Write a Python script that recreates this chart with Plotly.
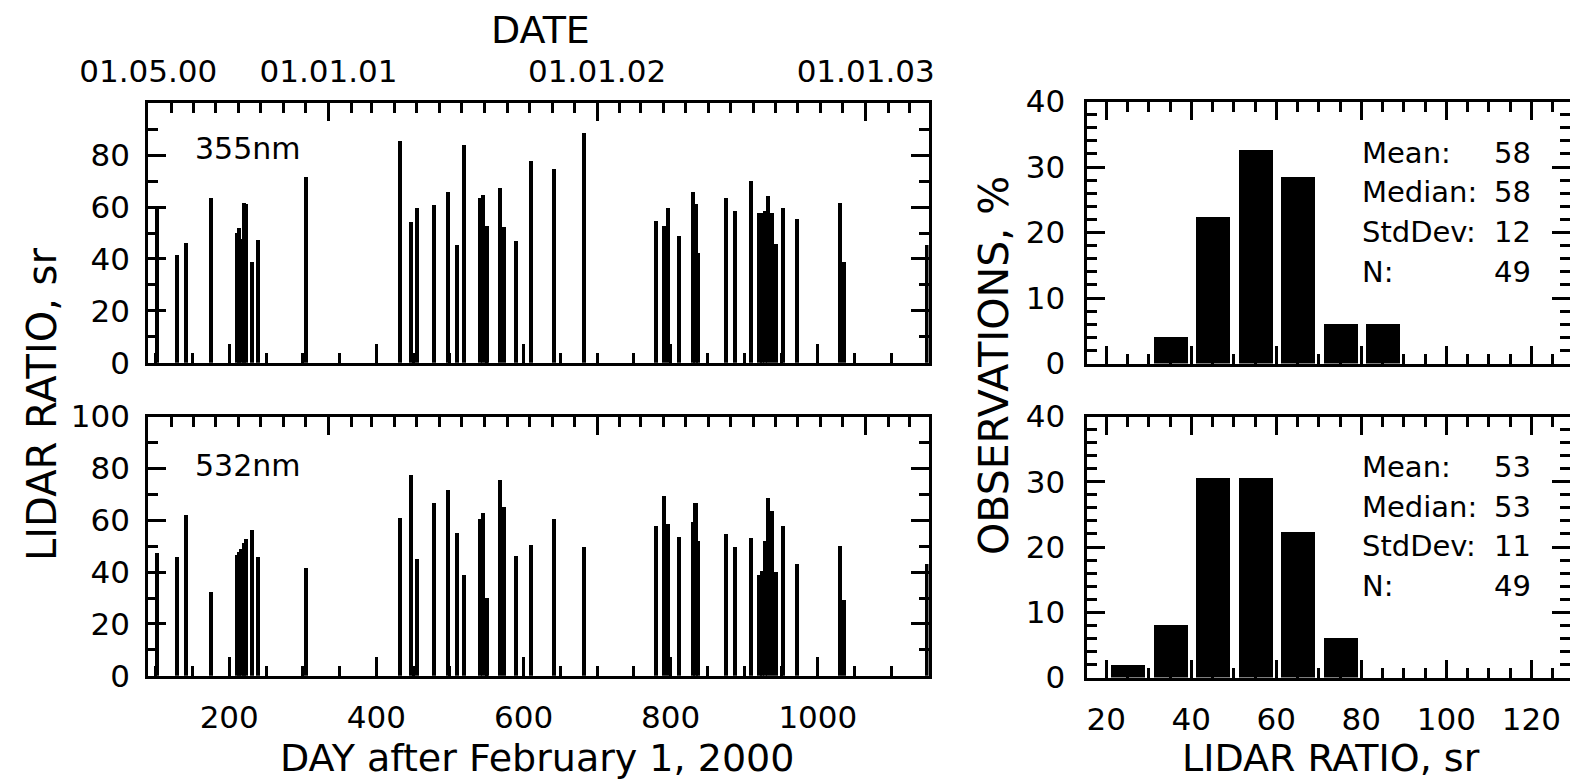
import datetime as dt
import plotly.graph_objects as go

W, H = 1570, 784
FONT = "DejaVu Sans"

# ---------------- data ----------------
obs_day = [102, 129, 142, 175, 211, 214, 217, 220, 223, 231, 239, 304, 433, 447, 455,
           479, 498, 510, 519, 541, 545, 550, 568, 574, 590, 611, 642, 683, 780, 791,
           797, 812, 830, 834, 838, 876, 888, 910, 921, 925, 929, 933, 938, 943, 953,
           972, 1030, 1036, 1149]
lr_355 = [59.8, 41.4, 46.0, 63.3, 49.8, 52.0, 47.5, 61.5, 61.0, 38.9, 47.1, 71.4, 85.3, 54.3, 59.6,
          60.8, 65.8, 45.4, 83.8, 63.3, 64.6, 52.8, 67.3, 52.2, 46.8, 77.8, 74.6, 88.6, 54.4, 52.8,
          59.4, 48.7, 65.7, 61.0, 42.3, 63.3, 58.5, 69.9, 57.5, 57.5, 58.5, 64.2, 57.5, 45.6, 59.4,
          55.3, 61.6, 38.9, 45.4]
lr_532 = [47.4, 45.9, 62.2, 32.4, 46.9, 47.8, 49.0, 51.5, 53.1, 56.3, 45.9, 41.7, 60.9, 77.7, 45.2,
          66.9, 72.0, 55.4, 39.2, 60.5, 62.8, 30.2, 75.8, 65.2, 46.5, 50.6, 60.5, 49.9, 58.0, 69.4,
          58.9, 53.9, 59.6, 67.0, 52.2, 54.8, 49.9, 53.2, 39.2, 40.5, 52.2, 68.8, 63.7, 40.1, 58.0,
          43.3, 50.3, 29.3, 43.3]

hist_center_355 = [35, 45, 55, 65, 75, 85]
hist_pct_355 = [4.1, 22.4, 32.7, 28.6, 6.1, 6.1]
hist_center_532 = [25, 35, 45, 55, 65, 75]
hist_pct_532 = [2.0, 8.2, 30.6, 30.6, 22.4, 6.1]

stats_labels = ["Mean:", "Median:", "StdDev:", "N:"]
stats_355 = [58, 58, 12, 49]
stats_532 = [53, 53, 11, 49]

ref_date = dt.date(2000, 2, 1)
date_tick_dates = [dt.date(2000, 5, 1), dt.date(2001, 1, 1), dt.date(2002, 1, 1), dt.date(2003, 1, 1)]
date_tick_labels = ["01.05.00", "01.01.01", "01.01.02", "01.01.03"]
date_tick_days = [(d - ref_date).days for d in date_tick_dates]

month_days = []
for yr in range(2000, 2004):
    for mo in range(1, 13):
        dd = (dt.date(yr, mo, 1) - ref_date).days
        if 91 <= dd <= 1152:
            month_days.append(dd)

# ---------------------------------------

def fx(p):
    return p / W

def fy(p):
    return 1 - p / H

BLACK = "black"
LW = 3
TICKFONT = dict(family=FONT, size=31, color=BLACK)

fig = go.Figure()

fig.add_trace(go.Bar(x=obs_day, y=lr_355, width=5.5, marker=dict(color=BLACK, line=dict(width=0)),
                     xaxis="x", yaxis="y", showlegend=False))
fig.add_trace(go.Bar(x=obs_day, y=lr_532, width=5.5, marker=dict(color=BLACK, line=dict(width=0)),
                     xaxis="x2", yaxis="y2", showlegend=False))
fig.add_trace(go.Bar(x=hist_center_355, y=hist_pct_355, width=8, marker=dict(color=BLACK, line=dict(width=0)),
                     xaxis="x3", yaxis="y3", showlegend=False))
fig.add_trace(go.Bar(x=hist_center_532, y=hist_pct_532, width=8, marker=dict(color=BLACK, line=dict(width=0)),
                     xaxis="x4", yaxis="y4", showlegend=False))
fig.add_trace(go.Scatter(x=[], y=[], xaxis="x5", yaxis="y", showlegend=False))
fig.add_trace(go.Scatter(x=[], y=[], xaxis="x6", yaxis="y2", showlegend=False))

LX = [fx(148.2), fx(928.5)]
TY = [fy(362.8), fy(103.2)]
BY = [fy(675.8), fy(416.5)]
HX = [fx(1086.5), 1.0]
HTY = [fy(363.5), fy(101.5)]
HBY = [fy(677.5), fy(416.5)]

XR = [89.9, 1150.4]
HXR = [15.35, 129.1]

COMMON = dict(showgrid=False, zeroline=False, automargin=False, tickfont=TICKFONT,
              tickcolor=BLACK, tickwidth=LW, ticks="inside")

def minor(dtick=None, tickvals=None):
    m = dict(ticks="inside", ticklen=10, tickwidth=LW, tickcolor=BLACK)
    if tickvals is not None:
        m.update(tickmode="array", tickvals=tickvals)
    else:
        m.update(tickmode="linear", tick0=0, dtick=dtick)
    return m

def day_axis(domain, anchor, labels):
    return dict(COMMON, domain=domain, anchor=anchor, range=XR, showline=True, linewidth=LW,
                linecolor=BLACK, mirror=True, tickmode="linear", tick0=0, dtick=200, ticklen=19,
                minor=minor(dtick=50), showticklabels=labels, ticklabelstandoff=12)

def date_axis(over, anchor, labels):
    return dict(COMMON, overlaying=over, anchor=anchor, side="top", range=XR, showline=False,
                tickmode="array", tickvals=date_tick_days, ticktext=date_tick_labels, ticklen=18,
                minor=minor(tickvals=month_days), showticklabels=labels, ticklabelstandoff=14)

def lr_yaxis(domain, anchor, tickvals):
    return dict(COMMON, domain=domain, anchor=anchor, range=[0, 100], showline=True, linewidth=LW,
                linecolor=BLACK, mirror="ticks", tickmode="array", tickvals=tickvals, ticklen=18,
                minor=minor(dtick=10), ticklabelstandoff=9)

def hist_xaxis(domain, anchor, labels):
    return dict(COMMON, domain=domain, anchor=anchor, range=HXR, showline=True, linewidth=LW,
                linecolor=BLACK, mirror="ticks", tickmode="linear", tick0=0, dtick=20, ticklen=18,
                minor=minor(dtick=5), showticklabels=labels, ticklabelstandoff=12)

def hist_yaxis(domain, anchor):
    return dict(COMMON, domain=domain, anchor=anchor, range=[0, 40], showline=True, linewidth=LW,
                linecolor=BLACK, mirror="ticks", tickmode="linear", tick0=0, dtick=10, ticklen=18,
                minor=minor(dtick=2), ticklabelstandoff=12)

annotations = []

def ann(text, x, y, size, xanchor="center", yanchor="middle", textangle=0, xref="paper", yref="paper"):
    annotations.append(dict(text=text, x=x, y=y, xref=xref, yref=yref, showarrow=False,
                            xanchor=xanchor, yanchor=yanchor, textangle=textangle,
                            font=dict(family=FONT, size=size, color=BLACK)))

ann("DATE", fx(540), fy(30), 38)
ann("DAY after February 1, 2000", fx(537), fy(758), 38)
ann("LIDAR RATIO, sr", fx(1331), fy(758), 38)
ann("LIDAR RATIO, sr", fx(42), fy(405), 40, textangle=-90)
ann("OBSERVATIONS, %", fx(994), fy(366), 41, textangle=-90)
ann("355nm", 151, 82.5, 30, xanchor="left", xref="x", yref="y")
ann("532nm", 151, 81, 30, xanchor="left", xref="x2", yref="y2")

stat_rows_y = [32.2, 26.2, 20.1, 14.0]
for (xr, yr, vals) in [("x3", "y3", stats_355), ("x4", "y4", stats_532)]:
    for lab, v, yy in zip(stats_labels, vals, stat_rows_y):
        ann(lab, 79.7, yy, 29, xanchor="left", xref=xr, yref=yr)
        ann(str(v), 120.4, yy, 29, xanchor="right", xref=xr, yref=yr)

fig.update_layout(
    width=W, height=H, autosize=False,
    margin=dict(l=0, r=0, t=0, b=0, pad=0, autoexpand=False),
    paper_bgcolor="white", plot_bgcolor="white",
    barmode="overlay", bargap=0, showlegend=False,
    font=dict(family=FONT, color=BLACK),
    xaxis=day_axis(LX, "y", False),
    xaxis2=day_axis(LX, "y2", True),
    xaxis3=hist_xaxis(HX, "y3", False),
    xaxis4=hist_xaxis(HX, "y4", True),
    xaxis5=date_axis("x", "y", True),
    xaxis6=date_axis("x2", "y2", False),
    yaxis=lr_yaxis(TY, "x", [0, 20, 40, 60, 80]),
    yaxis2=lr_yaxis(BY, "x2", [0, 20, 40, 60, 80, 100]),
    yaxis3=hist_yaxis(HTY, "x3"),
    yaxis4=hist_yaxis(HBY, "x4"),
    annotations=annotations,
)

fig.write_html("out.html")
